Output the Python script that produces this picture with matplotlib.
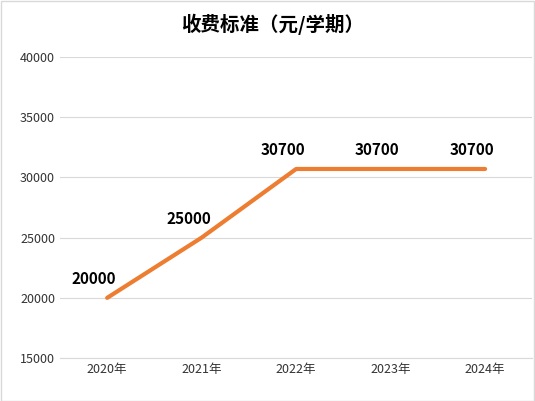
import matplotlib.pyplot as plt
from matplotlib.patches import Rectangle

plt.rcParams['font.family'] = ['Noto Sans CJK SC', 'DejaVu Sans']

years = ["2020年", "2021年", "2022年", "2023年", "2024年"]
fees = [20000, 25000, 30700, 30700, 30700]

fig = plt.figure(figsize=(5.35, 4.01), dpi=100)
ax = fig.add_axes([0.112, 0.107, 0.883, 0.751])
x = range(len(years))
ax.plot(x, fees, color="#ED7D31", linewidth=3, solid_capstyle="round")
for xi, v in zip(x, fees):
    ax.text(xi - 0.14, v + 900, str(v), ha="center", va="bottom", fontsize=11, fontweight="bold")

ax.set_ylim(15000, 40000)
ax.set_yticks(range(15000, 40001, 5000))
ax.set_xlim(-0.5, 4.5)
ax.set_xticks(list(x))
ax.set_xticklabels(years)
ax.tick_params(length=0, labelsize=9, colors="#333333")
ax.grid(axis="y", color="#d9d9d9", linewidth=0.8)
ax.set_axisbelow(True)
for s in ax.spines.values():
    s.set_visible(False)
ax.spines["bottom"].set_visible(True)
ax.spines["bottom"].set_color("#d9d9d9")
fig.patches.append(Rectangle((0.001, 0.001), 0.997, 0.997, transform=fig.transFigure,
                             fill=False, edgecolor="#d9d9d9", linewidth=1))
fig.suptitle("收费标准（元/学期）", x=0.51, y=0.965, fontsize=14, fontweight="bold")
fig.savefig("out.png")
